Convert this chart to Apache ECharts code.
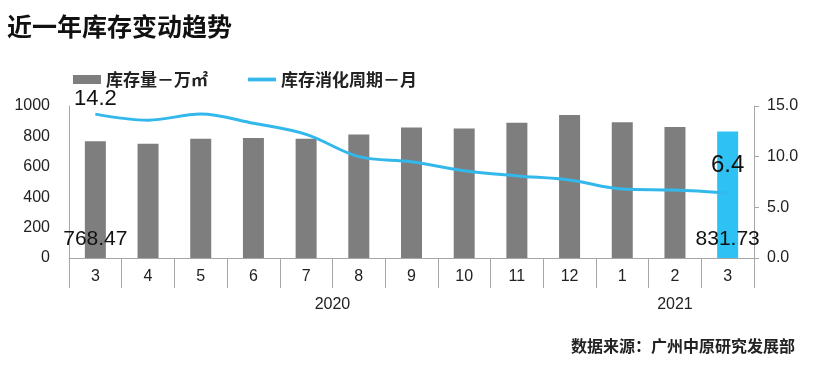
<!DOCTYPE html>
<html><head><meta charset="utf-8">
<script src="https://cdn.jsdelivr.net/npm/echarts@6/dist/echarts.min.js"></script>
<style>html,body{margin:0;padding:0;background:#fff}#c{width:813px;height:365px}</style>
</head><body><div id="c"></div>
<script>
const months = ['3','4','5','6','7','8','9','10','11','12','1','2','3'];
const years = ['2020','2021'];
const yearSpans = [10, 3];
const stock = [768.47, 752, 784, 790, 784, 812, 858, 852, 890, 941, 893, 862, 831.73];
const cycle = [14.2, 13.6, 14.2, 13.3, 12.2, 10.0, 9.5, 8.6, 8.1, 7.7, 6.8, 6.7, 6.4];
const leftTicks = [0, 200, 400, 600, 800, 1000];
const rightTicks = [0, 5, 10, 15];
const nameStock = '库存量－万㎡';
const nameCycle = '库存消化周期－月';

const GREY = '#7f7e7f', BLUE = '#2ec2f4', LINE = '#33b8ec', AX = '#a6a6a6';
const NUM = 'Liberation Sans, Arial, sans-serif';
const CJK = 'Noto Sans CJK SC, sans-serif';

const yb = [0]; yearSpans.forEach(s => yb.push(yb[yb.length-1] + s));
const yc = yearSpans.map((s, i) => yb[i] + s / 2);
const last = stock.length - 1;

const chart = echarts.init(document.getElementById('c'), null, {renderer: 'canvas'});
chart.setOption({
  animation: false,
  title: [
    {text: '近一年库存变动趋势', left: 2, top: 9, textStyle: {fontFamily: CJK, fontSize: 25, fontWeight: 'bold', color: '#111'}},
    {text: '数据来源：广州中原研究发展部', right: 13, top: 333, textStyle: {fontFamily: CJK, fontSize: 16, fontWeight: 'bold', color: '#222'}}
  ],
  legend: {
    left: 68, top: 66, itemGap: 40, itemWidth: 28, itemHeight: 9, itemTextGap: 6,
    textStyle: {fontFamily: CJK, fontSize: 17, fontWeight: 'bold', color: '#222'},
    data: [{name: nameStock, icon: 'rect'}, {name: nameCycle, icon: 'path://M0 0H30V4H0Z'}]
  },
  grid: {left: 69, right: 59, top: 106, bottom: 107},
  xAxis: [
    {type: 'category', data: months, boundaryGap: true,
     axisLine: {lineStyle: {color: AX, width: 1}},
     axisTick: {show: true, length: 30, lineStyle: {color: AX}},
     axisLabel: {margin: 11, fontFamily: NUM, fontSize: 16, color: '#222'}},
    {type: 'value', min: 0, max: months.length, position: 'bottom', offset: 30,
     axisLine: {show: false}, splitLine: {show: false},
     axisTick: {show: true, customValues: yb, length: 29, lineStyle: {color: AX}},
     axisLabel: {customValues: yc, margin: 9, fontFamily: NUM, fontSize: 16, color: '#222',
       formatter: v => years[yc.indexOf(v)]}}
  ],
  yAxis: [
    {type: 'value', min: 0, max: 1000, interval: 200, position: 'left',
     axisLine: {show: true, lineStyle: {color: AX}}, axisTick: {show: false}, splitLine: {show: false},
     axisLabel: {margin: 19, fontFamily: NUM, fontSize: 16, color: '#222', formatter: v => String(v)}},
    {type: 'value', min: 0, max: 15, interval: 5, position: 'right',
     axisLine: {show: true, lineStyle: {color: AX}},
     axisTick: {show: true, length: 5, lineStyle: {color: AX}}, splitLine: {show: false},
     axisLabel: {margin: 13, fontFamily: NUM, fontSize: 16, color: '#222', formatter: v => v.toFixed(1)}}
  ],
  series: [
    {name: nameStock, type: 'bar', xAxisIndex: 0, yAxisIndex: 0, barWidth: 21, z: 2,
     itemStyle: {color: GREY},
     data: stock.map((v, i) => ({
       value: v,
       itemStyle: {color: i === last ? BLUE : GREY},
       label: {show: i === 0 || i === last, position: 'insideBottom', distance: 8,
               fontFamily: NUM, fontSize: 21, color: '#111', formatter: p => String(p.value)}
     }))},
    {name: nameCycle, type: 'line', xAxisIndex: 0, yAxisIndex: 1, smooth: 0.35, z: 3,
     symbol: 'circle', symbolSize: 0, showSymbol: true,
     lineStyle: {color: LINE, width: 3}, itemStyle: {color: LINE},
     data: cycle.map((v, i) => ({
       value: v,
       label: {show: i === 0 || i === last, position: 'top', distance: i === 0 ? 4 : 16,
               fontFamily: NUM, fontSize: i === 0 ? 22 : 24, color: '#111', formatter: p => p.value.toFixed(1)}
     }))}
  ]
});
</script></body></html>
